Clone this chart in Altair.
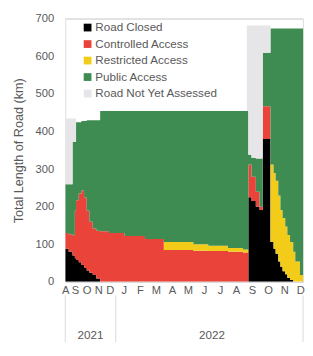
import altair as alt
import pandas as pd

# ---- data (km of road in each access class) ----
dates = [
    "2021-08-22", "2021-08-31", "2021-09-10", "2021-09-16", "2021-09-19",
    "2021-09-26", "2021-10-03", "2021-10-10", "2021-10-17", "2021-10-24",
    "2021-11-02", "2021-11-11", "2021-11-21", "2021-12-14", "2022-01-18",
    "2022-02-24", "2022-04-01", "2022-05-27", "2022-06-24", "2022-08-01",
    "2022-08-30", "2022-09-06", "2022-09-09", "2022-09-15", "2022-09-23",
    "2022-09-30", "2022-10-06", "2022-10-21", "2022-10-27", "2022-10-31",
    "2022-11-05", "2022-11-09", "2022-11-13", "2022-11-18", "2022-11-22",
    "2022-11-27", "2022-12-03", "2022-12-07", "2022-12-16", "2022-12-25",
]
road_closed = [88, 80, 70, 63, 58, 52, 45, 37, 30, 24, 18, 9, 0,
               0, 0, 0, 0, 0, 0, 0, 0, 0,
               225, 215, 200, 191, 380,
               106, 88, 75, 54, 40, 28, 20, 10, 5,
               0, 0, 0, 0]
controlled_access = [42, 47, 54, 127, 159, 183, 198, 188, 160, 136, 124, 127, 135,
                     130, 122, 114, 85, 83, 82, 80, 78, 78,
                     87, 65, 40, 9, 87,
                     0, 0, 0, 0, 0, 0, 0, 0, 0, 0, 0, 0, 0]
restricted_access = [0, 0, 0, 0, 0, 0, 0, 0, 0, 0, 0, 0, 0, 0, 0, 0,
                     21, 17, 14, 10, 8, 8,
                     0, 0, 0, 0, 0,
                     206, 202, 194, 176, 151, 142, 127, 115, 101, 80, 54, 18, 18]
public_access = [130, 133, 248, 182, 208, 190, 185, 203, 240, 270, 288, 294, 320,
                 325, 333, 341, 349, 355, 359, 365, 369, 369,
                 26, 50, 88, 128, 143,
                 362, 384, 405, 444, 483, 504, 527, 549, 568, 594, 620, 656, 656]
not_yet_assessed = [175, 175, 63, 63,
                    0, 0, 0, 0, 0, 0, 0, 0, 0, 0, 0, 0, 0, 0, 0, 0, 0,
                    227,
                    344, 352, 354, 354, 72,
                    0, 0, 0, 0, 0, 0, 0, 0, 0, 0, 0, 0, 0]

categories = ["Road Closed", "Controlled Access", "Restricted Access",
              "Public Access", "Road Not Yet Assessed"]
colours = ["#000000", "#ea443a", "#f2cc18", "#3f8c52", "#e6e6e8"]
month_letters = ["A", "S", "O", "N", "D", "J", "F", "M", "A", "M", "J", "J",
                 "A", "S", "O", "N", "D"]
year_labels = ["2021", "2022"]
y_ticks = [0, 100, 200, 300, 400, 500, 600, 700]
view_start, view_end = "2021-08-22", "2022-12-22"


def month_pos(d):
    t = pd.Timestamp(d)
    return (t.year - 2021) * 12 + (t.month - 8) + (t.day - 1) / t.days_in_month


series = [road_closed, controlled_access, restricted_access, public_access, not_yet_assessed]
rows = []
for i, d in enumerate(dates):
    for k, (cat, vals) in enumerate(zip(categories, series)):
        rows.append({"m": month_pos(d), "cat": cat, "k": k, "km": vals[i]})
df = pd.DataFrame(rows)

m0 = month_pos(view_start)
m_jan = month_pos("2022-01-01")
m_end = month_pos(view_end)

W, H = 245, 271
text_col = "#595959"
line_col = "#d9d9d9"

xscale = alt.Scale(domain=[m0, m_jan, m_end], range=[0, 52, W], nice=False, zero=False)
yscale = alt.Scale(domain=[0, 700], nice=False)
tick_vals = [m0] + [k + 0.5 for k in range(1, len(month_letters))]
label_expr = "[" + ",".join("'%s'" % s for s in month_letters) + "][floor(datum.value)]"

x_axis = alt.Axis(title=None, values=tick_vals, labelExpr=label_expr, ticks=False,
                  grid=False, domain=True, domainColor=line_col, labelFontSize=11.5,
                  labelColor=text_col, labelPadding=3, labelFlush=False,
                  labelOverlap=False)
y_axis = alt.Axis(title="Total Length of Road (km)", values=y_ticks, grid=False,
                  domain=False, ticks=False, labelPadding=12, labelFontSize=11.5,
                  labelColor=text_col, titleFontSize=13, titleColor=text_col,
                  titleFontWeight="normal", titlePadding=10, labelOverlap=False,
                  labelFlush=False)

X = alt.X("m:Q", scale=xscale, axis=x_axis)
Y_TITLE = "Total Length of Road (km)"

area = alt.Chart(df).mark_area(interpolate="step-after", clip=True).encode(
    x=X,
    y=alt.Y("km:Q", stack="zero", scale=yscale, axis=y_axis, title=Y_TITLE),
    color=alt.Color("cat:N", scale=alt.Scale(domain=categories, range=colours),
                    legend=alt.Legend(orient="none", legendX=14, legendY=0, title=None,
                                      symbolType="square", symbolSize=64,
                                      symbolStrokeWidth=0, labelFontSize=12,
                                      labelColor=text_col, rowPadding=5, padding=3,
                                      labelOffset=2)),
    order=alt.Order("k:Q", sort="ascending"),
)

top_rule = alt.Chart(pd.DataFrame({"km": [y_ticks[-1]]})).mark_rule(color=line_col).encode(
    y=alt.Y("km:Q", scale=yscale, axis=y_axis, title=Y_TITLE)
)

dividers = alt.Chart(pd.DataFrame({"m": [m0, m_jan, m_end]})).mark_rule(color=line_col).encode(
    x=X,
    y=alt.value(H + 14),
    y2=alt.value(H + 62),
)

years = alt.Chart(pd.DataFrame({"m": [(m0 + m_jan) / 2, (m_jan + month_pos("2023-01-01")) / 2],
                                "label": year_labels})).mark_text(
    fontSize=12, color=text_col
).encode(
    x=X,
    y=alt.value(H + 55),
    text="label:N",
)

chart = alt.layer(area, top_rule, dividers, years).properties(
    width=W, height=H,
    padding={"left": 4, "top": 0, "right": 0, "bottom": 0},
).configure_view(stroke=None).configure(font="Liberation Sans")

chart.save("out.html", embed_options={"renderer": "svg", "actions": False})
